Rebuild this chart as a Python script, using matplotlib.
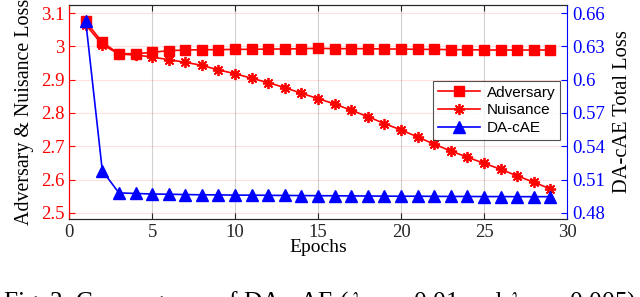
import matplotlib
matplotlib.use('Agg')
import matplotlib.pyplot as plt

plt.rcParams['font.family'] = ['Liberation Serif', 'DejaVu Serif']
plt.rcParams['mathtext.fontset'] = 'stix'

# Values
epochs = list(range(1, 30))
adversary = [3.075, 3.012, 2.978, 2.978, 2.982, 2.987, 2.989, 2.990, 2.990, 2.991,
             2.991, 2.992, 2.992, 2.993, 2.994, 2.993, 2.993, 2.993, 2.992, 2.992,
             2.991, 2.991, 2.990, 2.990, 2.989, 2.989, 2.989, 2.989, 2.989]
nuisance = [3.065, 3.005, 2.977, 2.974, 2.968, 2.960, 2.952, 2.943, 2.929, 2.918,
            2.904, 2.891, 2.876, 2.859, 2.843, 2.827, 2.808, 2.789, 2.768, 2.749,
            2.728, 2.706, 2.686, 2.667, 2.649, 2.631, 2.611, 2.592, 2.572]
dacae = [0.6528, 0.518, 0.498, 0.4975, 0.497, 0.4968, 0.4965, 0.4963, 0.4962, 0.496,
         0.496, 0.4958, 0.4957, 0.4956, 0.4955, 0.4954, 0.4953, 0.4952, 0.4951, 0.495,
         0.495, 0.4949, 0.4948, 0.4948, 0.4947, 0.4947, 0.4946, 0.4946, 0.4946]

left_ticks = [2.5, 2.6, 2.7, 2.8, 2.9, 3.0, 3.1]
left_labels = ['2.5', '2.6', '2.7', '2.8', '2.9', '3', '3.1']
right_ticks = [0.48, 0.51, 0.54, 0.57, 0.6, 0.63, 0.66]
right_labels = ['0.48', '0.51', '0.54', '0.57', '0.6', '0.63', '0.66']
x_ticks = [0, 5, 10, 15, 20, 25, 30]

fig = plt.figure(figsize=(6.4, 2.97), dpi=100)
ax = fig.add_axes([0.108, 0.263, 0.778, 0.72])
ax2 = ax.twinx()

red = '#ff0000'
blue = '#0000ff'

l1, = ax.plot(epochs, adversary, color=red, marker='s', markersize=7, lw=1.2, label='Adversary')
l2, = ax.plot(epochs, nuisance, color=red, marker=(8, 2, 0), markersize=8, mew=1.3,
              lw=1.2, label='Nuisance')
l3, = ax2.plot(epochs, dacae, color=blue, marker='^', markersize=8.5, lw=1.2, label='DA-cAE')

ax.set_xlim(0, 30)
ax.set_ylim(2.482, 3.124)
ax2.set_ylim(0.48 + (2.482 - 2.5) * 0.3, 0.48 + (3.124 - 2.5) * 0.3)

ax.set_xticks(x_ticks)
ax.set_yticks(left_ticks)
ax.set_yticklabels(left_labels)
ax2.set_yticks(right_ticks)
ax2.set_yticklabels(right_labels)

# grid: grey verticals, faint red horizontals
ax.grid(axis='x', color='#d0d0d0', lw=0.8)
ax.grid(axis='y', color=red, alpha=0.12, lw=0.8)
ax.set_axisbelow(True)

ax.tick_params(axis='x', direction='in', top=True, labelsize=13.5, colors='#262626', length=4)
ax.tick_params(axis='y', direction='in', colors=red, labelsize=13.5, length=4)
ax2.tick_params(axis='y', direction='in', colors=blue, labelsize=13.5, length=4)

ax.spines['left'].set_color(red)
ax2.spines['left'].set_color(red)
ax2.spines['right'].set_color(blue)
ax.spines['right'].set_visible(False)
for s in ['top', 'bottom']:
    ax.spines[s].set_color('#262626')
    ax2.spines[s].set_color('#262626')

ax.set_xlabel('Epochs', fontsize=14, labelpad=-1)
ax.set_ylabel('Adversary & Nuisance Loss', fontsize=14.4, labelpad=5)
ax2.set_ylabel('DA-cAE Total Loss', fontsize=14.8, labelpad=6)

leg = ax2.legend(handles=[l1, l2, l3], loc='upper left', bbox_to_anchor=(0.731, 0.645),
                 prop={'family': 'Liberation Sans', 'size': 11}, fancybox=False,
                 edgecolor='#262626', handlelength=2.8, borderpad=0.3, labelspacing=0.25,
                 handletextpad=0.4, borderaxespad=0)
leg.get_frame().set_linewidth(0.8)

# figure caption, clipped at the bottom edge like in the source image
fig.text(0.005, (297 - 309) / 297,
         r'Fig. 3: Convergence of DA-cAE ($\lambda_{adv}$ = 0.01 and $\lambda_{nui}$ = 0.005)',
         fontsize=18.3, va='baseline', ha='left')

fig.savefig('out.png', dpi=100)
